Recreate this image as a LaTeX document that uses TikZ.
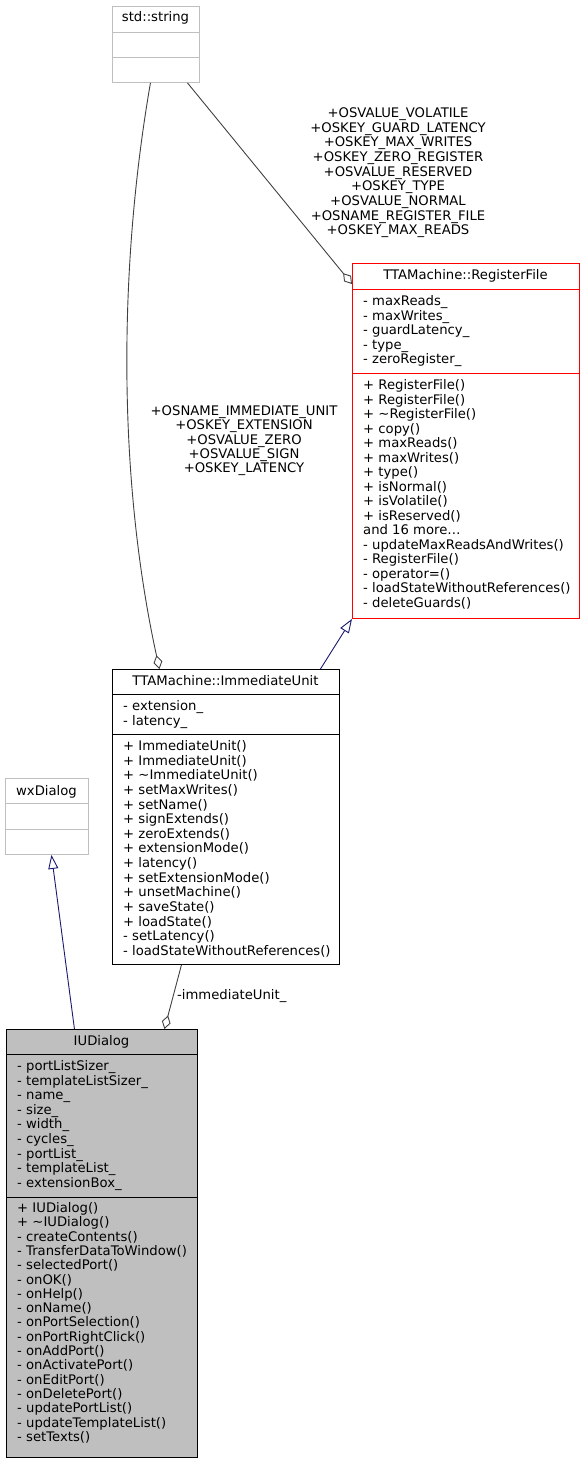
\documentclass[tikz,border=0pt]{standalone}
\usepackage{fontspec}
\setmainfont{DejaVu Sans}
\usetikzlibrary{arrows.meta}
\definecolor{edgegrey}{HTML}{404040}
\definecolor{boxgrey}{HTML}{BFBFBF}
\definecolor{inhblue}{HTML}{191970}

\begin{document}
\begin{tikzpicture}[x=1pt, y=-1pt,
  every node/.style={font=\fontsize{13.2}{14.5}\selectfont, inner sep=0pt},
  clsbox/.style={draw, rectangle, anchor=north west, line width=0.9pt},
  clstitle/.style={anchor=base},
  member/.style={anchor=base west},
  rellabel/.style={anchor=base},
  aggr/.style={draw=edgegrey, line width=0.9pt, -{Diamond[open, length=14pt, width=9pt]}},
  inh/.style={draw=inhblue, line width=0.9pt, -{Triangle[open, length=14pt, width=10pt]}}]
  \useasboundingbox (0,0) rectangle (584,1463);

  % std::string
  \node[clsbox, draw=boxgrey, minimum width=87pt, minimum height=76pt] (str) at (112,6) {};
  \draw[boxgrey, line width=0.9pt] (112,32) -- (199,32) (112,57) -- (199,57);
  \node[clstitle] (str-t) at (155.5,21.8) {std::string};

  % TTAMachine::RegisterFile
  \node[clsbox, draw=red, minimum width=227pt, minimum height=355pt] (rf) at (352,263) {};
  \draw[red, line width=0.9pt] (352,289) -- (579,289) (352,373) -- (579,373);
  \node[clstitle] (rf-t) at (465.5,279.5) {TTAMachine::RegisterFile};
  \foreach \m [count=\i from 0] in {- maxReads\_, - maxWrites\_, - guardLatency\_, - type\_, - zeroRegister\_}
    \node[member] (rf-a\i) at (363,305.5+14.5*\i) {\m};
  \foreach \m [count=\i from 0] in {+ RegisterFile(), + RegisterFile(), + \textasciitilde RegisterFile(), + copy(),
      + maxReads(), + maxWrites(), + type(), + isNormal(), + isVolatile(), + isReserved(), and 16 more\ldots,
      - updateMaxReadsAndWrites(), - RegisterFile(), - operator=(), - loadStateWithoutReferences(), - deleteGuards()}
    \node[member] (rf-m\i) at (363,389.5+14.53*\i) {\m};

  % TTAMachine::ImmediateUnit
  \node[clsbox, minimum width=227pt, minimum height=295pt] (iu) at (112,669) {};
  \draw[line width=0.9pt] (112,694) -- (339,694) (112,734) -- (339,734);
  \node[clstitle] (iu-t) at (225.5,685.5) {TTAMachine::ImmediateUnit};
  \foreach \m [count=\i from 0] in {- extension\_, - latency\_}
    \node[member] (iu-a\i) at (123,710.5+14.6*\i) {\m};
  \foreach \m [count=\i from 0] in {+ ImmediateUnit(), + ImmediateUnit(), + \textasciitilde ImmediateUnit(),
      + setMaxWrites(), + setName(), + signExtends(), + zeroExtends(), + extensionMode(), + latency(),
      + setExtensionMode(), + unsetMachine(), + saveState(), + loadState(), - setLatency(),
      - loadStateWithoutReferences()}
    \node[member] (iu-m\i) at (123,750.5+14.64*\i) {\m};

  % wxDialog
  \node[clsbox, draw=boxgrey, minimum width=83pt, minimum height=76pt] (wx) at (5,778) {};
  \draw[boxgrey, line width=0.9pt] (5,803) -- (88,803) (5,829) -- (88,829);
  \node[clstitle] (wx-t) at (46.5,795.5) {wxDialog};

  % IUDialog
  \node[clsbox, fill=boxgrey, minimum width=191pt, minimum height=428pt] (iud) at (6,1029) {};
  \draw[line width=0.9pt] (6,1054) -- (197,1054) (6,1197) -- (197,1197);
  \node[clstitle] (iud-t) at (101.5,1045.5) {IUDialog};
  \foreach \m [count=\i from 0] in {- portListSizer\_, - templateListSizer\_, - name\_, - size\_, - width\_,
      - cycles\_, - portList\_, - templateList\_, - extensionBox\_}
    \node[member] (iud-a\i) at (17,1070.5+14.6*\i) {\m};
  \foreach \m [count=\i from 0] in {+ IUDialog(), + \textasciitilde IUDialog(), - createContents(),
      - TransferDataToWindow(), - selectedPort(), - onOK(), - onHelp(), - onName(), - onPortSelection(),
      - onPortRightClick(), - onAddPort(), - onActivatePort(), - onEditPort(), - onDeletePort(),
      - updatePortList(), - updateTemplateList(), - setTexts()}
    \node[member] (iud-m\i) at (17,1212.5+14.3*\i) {\m};

  % relations
  \draw[aggr] ([xshift=31.5]str.south) -- ([yshift=-21]rf.north west);
  \foreach \l [count=\i from 0] in {+OSVALUE\_VOLATILE, +OSKEY\_GUARD\_LATENCY, +OSKEY\_MAX\_WRITES,
      +OSKEY\_ZERO\_REGISTER, +OSVALUE\_RESERVED, +OSKEY\_TYPE, +OSVALUE\_NORMAL,
      +OSNAME\_REGISTER\_FILE, +OSKEY\_MAX\_READS}
    \node[rellabel] (rf-l\i) at (398,117.5+14.67*\i) {\l};

  \draw[aggr] ([xshift=-5.5]str.south) .. controls (118,270) and (118,480) .. ([xshift=-66.5]iu.north);
  \foreach \l [count=\i from 0] in {+OSNAME\_IMMEDIATE\_UNIT, +OSKEY\_EXTENSION, +OSVALUE\_ZERO,
      +OSVALUE\_SIGN, +OSKEY\_LATENCY}
    \node[rellabel] (iu-l\i) at (244,415.5+14.25*\i) {\l};

  \draw[inh] ([xshift=94.5]iu.north) -- (rf.south west);
  \draw[inh] ([xshift=-27.5]iud.north) -- ([xshift=4.5]wx.south);

  \draw[aggr] ([xshift=-44.5]iu.south) -- ([xshift=62.5]iud.north);
  \node[member] (iud-l) at (177,999.5) {-immediateUnit\_};
\end{tikzpicture}
\end{document}
